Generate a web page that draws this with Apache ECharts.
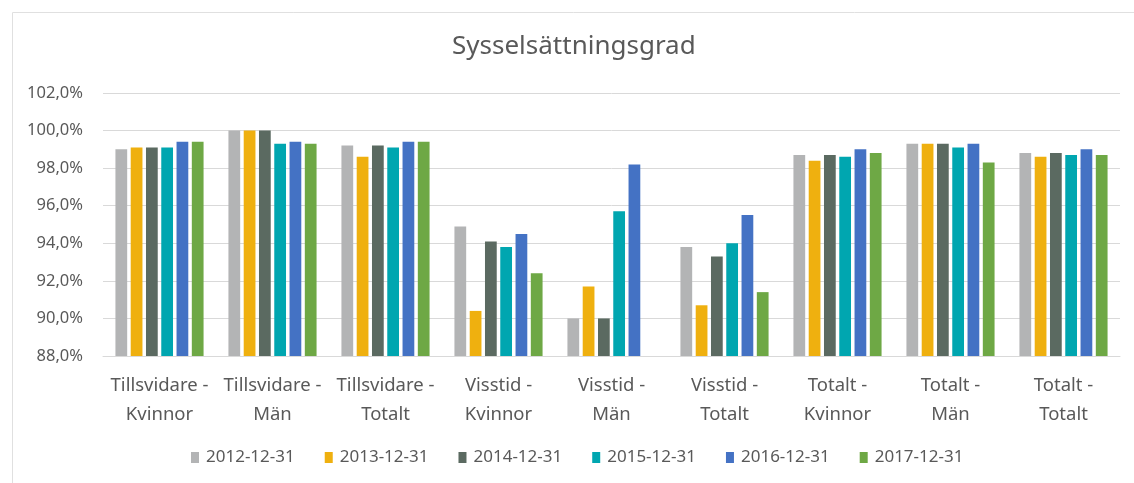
<!DOCTYPE html>
<html>
<head>
<meta charset="utf-8">
<script src="https://cdn.jsdelivr.net/npm/echarts@6/dist/echarts.min.js"></script>
<style>
  html, body { margin: 0; padding: 0; background: #fff; }
  #chart { width: 1134px; height: 483px; }
</style>
</head>
<body>
<div id="chart"></div>
<script>
var categories = [
  'Tillsvidare -\nKvinnor', 'Tillsvidare -\nMän', 'Tillsvidare -\nTotalt',
  'Visstid -\nKvinnor', 'Visstid -\nMän', 'Visstid -\nTotalt',
  'Totalt -\nKvinnor', 'Totalt -\nMän', 'Totalt -\nTotalt'
];
var seriesNames = ['2012-12-31', '2013-12-31', '2014-12-31', '2015-12-31', '2016-12-31', '2017-12-31'];
var seriesColors = ['#b3b4b5', '#efb00f', '#5b6a61', '#00a6b0', '#4472c4', '#6ea845'];

// values in percent
var v2012 = [99.0, 100.0, 99.2, 94.9, 90.0, 93.8, 98.7, 99.3, 98.8];
var v2013 = [99.1, 100.0, 98.6, 90.4, 91.7, 90.7, 98.4, 99.3, 98.6];
var v2014 = [99.1, 100.0, 99.2, 94.1, 90.0, 93.3, 98.7, 99.3, 98.8];
var v2015 = [99.1, 99.3, 99.1, 93.8, 95.7, 94.0, 98.6, 99.1, 98.7];
var v2016 = [99.4, 99.4, 99.4, 94.5, 98.2, 95.5, 99.0, 99.3, 99.0];
var v2017 = [99.4, 99.3, 99.4, 92.4, '-', 91.4, 98.8, 98.3, 98.7];
var allValues = [v2012, v2013, v2014, v2015, v2016, v2017];

var yMin = 88, yMax = 102, yStep = 2;

var textColor = '#595959';
var gridColor = '#d9d9d9';

var series = seriesNames.map(function (name, i) {
  return {
    name: name,
    type: 'bar',
    data: allValues[i],
    itemStyle: { color: seriesColors[i] },
    barGap: '30%',
    barCategoryGap: '22%'
  };
});

var chart = echarts.init(document.getElementById('chart'), null, { renderer: 'canvas' });
chart.setOption({
  animation: false,
  textStyle: { fontFamily: 'Noto Sans' },
  title: {
    text: 'Sysselsättningsgrad',
    left: 452,
    top: 34,
    padding: 0,
    textStyle: { fontSize: 26, fontWeight: 'normal', color: textColor, fontFamily: 'Noto Sans' }
  },
  graphic: [{
    type: 'rect',
    shape: { x: 12.5, y: 12.5, width: 1300, height: 700 },
    style: { fill: 'none', stroke: '#e0e0e0', lineWidth: 1 },
    silent: true
  }],
  legend: {
    data: seriesNames,
    left: 191,
    top: 449,
    icon: 'rect',
    itemWidth: 8,
    itemHeight: 11,
    itemGap: 30,
    padding: 0,
    textStyle: { fontSize: 17, color: textColor, padding: [0, 0, 0, 2] }
  },
  grid: { left: 103, right: 14, top: 93, bottom: 127 },
  xAxis: {
    type: 'category',
    data: categories,
    axisTick: { show: false },
    axisLine: { lineStyle: { color: gridColor, width: 1 } },
    axisLabel: {
      interval: 0,
      margin: 15,
      fontSize: 18.5,
      lineHeight: 29,
      color: textColor,
      align: 'center'
    }
  },
  yAxis: {
    type: 'value',
    min: yMin,
    max: yMax,
    interval: yStep,
    axisLine: { show: false },
    axisTick: { show: false },
    splitLine: { lineStyle: { color: gridColor, width: 1 } },
    axisLabel: {
      margin: 20,
      fontSize: 16.5,
      color: textColor,
      formatter: function (v) { return v.toFixed(1).replace('.', ',') + '%'; }
    }
  },
  series: series
});
</script>
</body>
</html>
